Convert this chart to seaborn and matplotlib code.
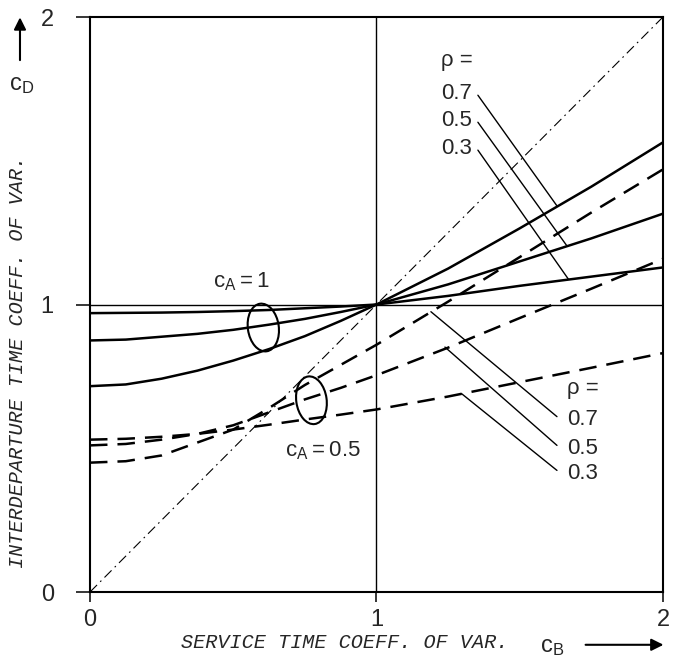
import matplotlib
matplotlib.use('Agg')
import matplotlib.pyplot as plt
from matplotlib.patches import Ellipse
import seaborn as sns

# service time coeff. of var. (x) and read-off curve values
cb = [0, 0.125, 0.25, 0.375, 0.5, 0.625, 0.75, 0.875, 1.0, 1.25, 1.5, 1.75, 2.0]
ca1_rho07 = [0.716, 0.722, 0.742, 0.77, 0.805, 0.845, 0.89, 0.943, 1.0, 1.125, 1.265, 1.41, 1.564]
ca1_rho05 = [0.875, 0.878, 0.888, 0.898, 0.912, 0.93, 0.95, 0.974, 1.0, 1.07, 1.15, 1.23, 1.316]
ca1_rho03 = [0.97, 0.971, 0.972, 0.974, 0.977, 0.981, 0.987, 0.993, 1.0, 1.03, 1.065, 1.097, 1.129]
ca05_rho07 = [0.45, 0.455, 0.475, 0.52, 0.565, 0.64, 0.72, 0.79, 0.86, 1.01, 1.165, 1.32, 1.47]
ca05_rho05 = [0.51, 0.515, 0.53, 0.55, 0.58, 0.625, 0.67, 0.71, 0.754, 0.85, 0.953, 1.055, 1.159]
ca05_rho03 = [0.53, 0.533, 0.54, 0.55, 0.565, 0.582, 0.60, 0.617, 0.635, 0.68, 0.73, 0.78, 0.831]

rho_labels = ['0.7', '0.5', '0.3']
ticks = [0, 1, 2]

sns.set_style('white')
plt.rcParams['font.family'] = ['Liberation Sans', 'DejaVu Sans']
plt.rcParams['mathtext.fontset'] = 'custom'
plt.rcParams['mathtext.rm'] = 'Liberation Sans'

fig = plt.figure(figsize=(6.73, 6.62), dpi=100)
ax = fig.add_axes([0.1337, 0.1057, 0.8514, 0.8686])

# reference lines
ax.plot([0, 2], [0, 2], color='black', lw=0.8, linestyle=(0, (9, 4, 1.5, 4)))
ax.axhline(1, color='black', lw=1.0)
ax.axvline(1, color='black', lw=1.0)

for vals in [ca1_rho07, ca1_rho05, ca1_rho03]:
    sns.lineplot(x=cb, y=vals, ax=ax, color='black', lw=1.8)
for vals in [ca05_rho07, ca05_rho05, ca05_rho03]:
    sns.lineplot(x=cb, y=vals, ax=ax, color='black', lw=1.8, linestyle=(0, (7, 4)))

ax.set_xlim(0, 2)
ax.set_ylim(0, 2)
ax.set_xticks(ticks)
ax.set_yticks(ticks)
ax.set_xticklabels([str(t) for t in ticks], fontsize=17)
ax.set_yticklabels([str(t) for t in ticks], fontsize=17)
ax.tick_params(axis='x', direction='out', length=7, width=1.3, pad=5, bottom=True)
ax.tick_params(axis='y', direction='out', length=10, width=1.3, pad=16, left=True)
for s in ax.spines.values():
    s.set_linewidth(1.5)
    s.set_color('black')

# ellipses marking curve groups
ax.add_patch(Ellipse((0.605, 0.92), 0.108, 0.167, angle=8, fill=False, lw=1.5, color='black'))
ax.add_patch(Ellipse((0.773, 0.667), 0.106, 0.167, angle=8, fill=False, lw=1.5, color='black'))

ax.text(0.53, 1.08, r'$\mathregular{c_A = 1}$', fontsize=16, ha='center', va='center')
ax.text(0.813, 0.49, r'$\mathregular{c_A = 0.5}$', fontsize=16, ha='center', va='center')

# upper rho labels with leaders to solid curves
ax.text(1.225, 1.85, 'ρ =', fontsize=16, ha='left', va='center')
up_y = [1.733, 1.639, 1.542]
up_end = [(1.630, 1.343), (1.664, 1.205), (1.670, 1.088)]
for lab, yy, (ex, ey) in zip(rho_labels, up_y, up_end):
    ax.text(1.225, yy, lab, fontsize=16, ha='left', va='center')
    ax.plot([1.354, ex], [yy - 0.005, ey], color='black', lw=1.0)

# lower rho labels with leaders to dashed curves
ax.text(1.665, 0.708, 'ρ =', fontsize=16, ha='left', va='center')
lo_y = [0.60, 0.50, 0.413]
lo_end = [(1.190, 0.975), (1.239, 0.852), (1.297, 0.69)]
for lab, yy, (ex, ey) in zip(rho_labels, lo_y, lo_end):
    ax.text(1.665, yy, lab, fontsize=16, ha='left', va='center')
    ax.plot([1.630, ex], [yy + 0.01, ey], color='black', lw=1.0)

ax.set_xlabel('')
ax.set_ylabel('')
fig.text(0.0267, 0.453, 'INTERDEPARTURE TIME COEFF. OF VAR.', rotation=90,
         family='Liberation Mono', style='italic', fontsize=14.5, ha='center', va='center')
fig.text(0.5126, 0.030, 'SERVICE TIME COEFF. OF VAR.',
         family='Liberation Mono', style='italic', fontsize=14.5, ha='center', va='center')

fig.text(0.0327, 0.872, r'$\mathregular{c_D}$', fontsize=17, ha='center', va='center')
fig.text(0.820, 0.023, r'$\mathregular{c_B}$', fontsize=17, ha='center', va='center')
ax.annotate('', xy=(0.0297, 0.978), xytext=(0.0297, 0.905), xycoords='figure fraction',
            arrowprops=dict(arrowstyle='-|>', color='black', lw=1.5, mutation_scale=18))
ax.annotate('', xy=(0.99, 0.026), xytext=(0.866, 0.026), xycoords='figure fraction',
            arrowprops=dict(arrowstyle='-|>', color='black', lw=1.5, mutation_scale=18))

fig.savefig('out.png', dpi=100)
